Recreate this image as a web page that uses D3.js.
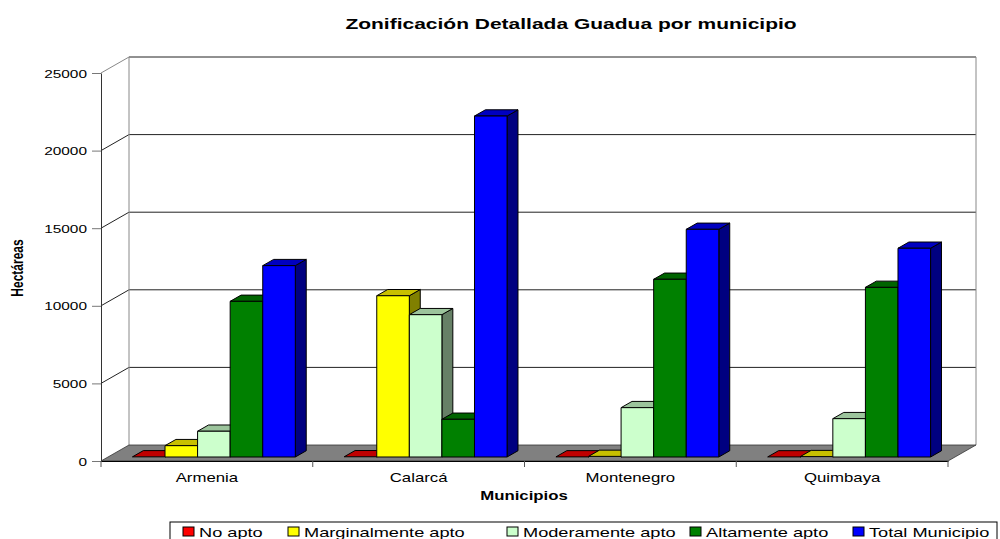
<!DOCTYPE html>
<html>
<head>
<meta charset="utf-8">
<script src="https://cdn.jsdelivr.net/npm/d3@7"></script>
<style>
  body { margin: 0; background: #fff; }
  text { font-family: "Liberation Sans", Arial, sans-serif; }
</style>
</head>
<body>
<div id="chart"></div>
<script>
// data
const municipios = ["Armenia", "Calarcá", "Montenegro", "Quimbaya"];
const series = ["No apto", "Marginalmente apto", "Moderamente apto", "Altamente apto", "Total Municipio"];
const noApto = [10, 15, 8, 6];
const marginal = [730, 10390, 40, 25];
const moderado = [1660, 9170, 3180, 2470];
const altamente = [10030, 2430, 11450, 10930];
const totalMun = [12330, 21970, 14670, 13450];
const yTicks = [0, 5000, 10000, 15000, 20000, 25000];

// styles
const frontCol = ["#ff0000", "#ffff00", "#ccffcc", "#008000", "#0000ff"];
const topCol   = ["#c00000", "#c8c000", "#9cc49c", "#006400", "#0000c0"];
const sideCol  = ["#800000", "#808000", "#668066", "#004000", "#000080"];

const values = [noApto, marginal, moderado, altamente, totalMun];
const rows = municipios.map((m, i) => ({ m: m, vals: values.map(s => s[i]) }));

const W = 1000, H = 539;
const SX = 1.4; // picture is stretched sideways, text too
const wall = [28, -16];       // depth offset of back wall
const barFront = 0.25, barDepth = 0.39;

const svg = d3.select("#chart").append("svg").attr("width", W).attr("height", H);

const x0 = d3.scaleBand().domain(municipios).range([101, 948])
  .paddingInner(1.5 / 6.5).paddingOuter(0.75 / 6.5);
const x1 = d3.scaleBand().domain(series).range([0, x0.bandwidth()]);
const y = d3.scaleLinear().domain([0, 25000]).range([461, 73]);

function stext(x, y, str, size, bold, anchor) {
  return svg.append("text")
    .attr("transform", `translate(${x},${y}) scale(${SX},1)`)
    .attr("text-anchor", anchor || "start")
    .attr("font-size", size + "px")
    .attr("font-weight", bold ? "bold" : "normal")
    .text(str);
}

// back wall
svg.append("rect")
  .attr("x", 101 + wall[0]).attr("y", y(25000) + wall[1])
  .attr("width", 847).attr("height", y(0) - y(25000))
  .attr("fill", "#fff");

// gridlines on back wall and side wall
yTicks.forEach(t => {
  if (t === 0) return;
  svg.append("line")
    .attr("x1", 101 + wall[0]).attr("x2", 948 + wall[0])
    .attr("y1", y(t) + wall[1]).attr("y2", y(t) + wall[1])
    .attr("stroke", "#222").attr("stroke-width", 1);
  svg.append("line")
    .attr("x1", 101).attr("y1", y(t))
    .attr("x2", 101 + wall[0]).attr("y2", y(t) + wall[1])
    .attr("stroke", t === 25000 ? "#888" : "#222");
});
[101, 948].forEach(xx => {
  svg.append("line")
    .attr("x1", xx + wall[0]).attr("x2", xx + wall[0])
    .attr("y1", y(25000) + wall[1]).attr("y2", y(0) + wall[1])
    .attr("stroke", "#888");
});

// floor
svg.append("path")
  .attr("d", `M101,${y(0)} L948,${y(0)} L${948 + wall[0]},${y(0) + wall[1]} L${101 + wall[0]},${y(0) + wall[1]} Z`)
  .attr("fill", "#808080").attr("stroke", "#333").attr("stroke-width", 0.8);

// bars
const fx = wall[0] * barFront, fy = wall[1] * barFront;
const dx = wall[0] * barDepth, dy = wall[1] * barDepth;

const groups = svg.append("g").selectAll("g")
  .data(rows).enter().append("g")
  .attr("transform", d => `translate(${x0(d.m) + fx},${fy})`);

groups.each(function(d) {
  const g = d3.select(this);
  d.vals.forEach((v, i) => {
    const bx = x1(series[i]), bw = x1.bandwidth();
    const yt = y(v), yb = y(0);
    const b = g.append("g").attr("stroke", "#000").attr("stroke-width", 1).attr("stroke-linejoin", "round");
    b.append("path")
      .attr("d", `M${bx + bw},${yt} L${bx + bw + dx},${yt + dy} L${bx + bw + dx},${yb + dy} L${bx + bw},${yb} Z`)
      .attr("fill", sideCol[i]);
    b.append("path")
      .attr("d", `M${bx},${yt} L${bx + bw},${yt} L${bx + bw + dx},${yt + dy} L${bx + dx},${yt + dy} Z`)
      .attr("fill", topCol[i]);
    if (yb - yt > 1) {
      b.append("rect")
        .attr("x", bx).attr("y", yt).attr("width", bw).attr("height", yb - yt)
        .attr("fill", frontCol[i]);
    }
  });
});

// y axis
const yAxis = svg.append("g").attr("transform", "translate(101,0)")
  .call(d3.axisLeft(y).tickValues(yTicks).tickFormat(d3.format("d")).tickSize(9).tickSizeOuter(0));
yAxis.select(".domain").attr("stroke", "#333");
yAxis.selectAll(".tick line").attr("stroke", "#777");
yAxis.selectAll(".tick text")
  .attr("x", null).attr("dy", null)
  .attr("transform", `translate(-14,4) scale(${SX},1)`)
  .attr("font-size", "11px").attr("font-family", "Liberation Sans, Arial, sans-serif")
  .attr("fill", "#000");

// x axis
const xAxis = svg.append("g").attr("transform", `translate(0,${y(0)})`)
  .call(d3.axisBottom(x0).tickSize(0).tickSizeOuter(0));
xAxis.select(".domain").attr("stroke", "#000");
xAxis.selectAll(".tick text")
  .attr("y", null).attr("dy", null)
  .attr("transform", `translate(0,21) scale(${SX},1)`)
  .attr("font-size", "12px").attr("font-family", "Liberation Sans, Arial, sans-serif")
  .attr("fill", "#000");
municipios.concat(["end"]).forEach((m, i) => {
  const xx = 101 + i * x0.step();
  svg.append("line").attr("x1", xx).attr("x2", xx)
    .attr("y1", y(0)).attr("y2", y(0) + 6).attr("stroke", "#555");
});

// titles
stext(571, 29, "Zonificación Detallada Guadua por municipio", 15, true, "middle");
stext(524, 500, "Municipios", 12, true, "middle");
svg.append("text")
  .attr("transform", `translate(23,268) rotate(-90) scale(1,${SX})`)
  .attr("text-anchor", "middle").attr("font-size", "12px").attr("font-weight", "bold")
  .text("Hectáreas");

// legend
const legX = [183, 288, 507, 690, 853];
svg.append("rect").attr("x", 170).attr("y", 522).attr("width", 827).attr("height", 30)
  .attr("fill", "#fff").attr("stroke", "#000");
series.forEach((s, i) => {
  svg.append("rect").attr("x", legX[i]).attr("y", 527).attr("width", 11).attr("height", 9)
    .attr("fill", frontCol[i]).attr("stroke", "#000");
  stext(legX[i] + 16, 537, s, 13, false, "start");
});
</script>
</body>
</html>
